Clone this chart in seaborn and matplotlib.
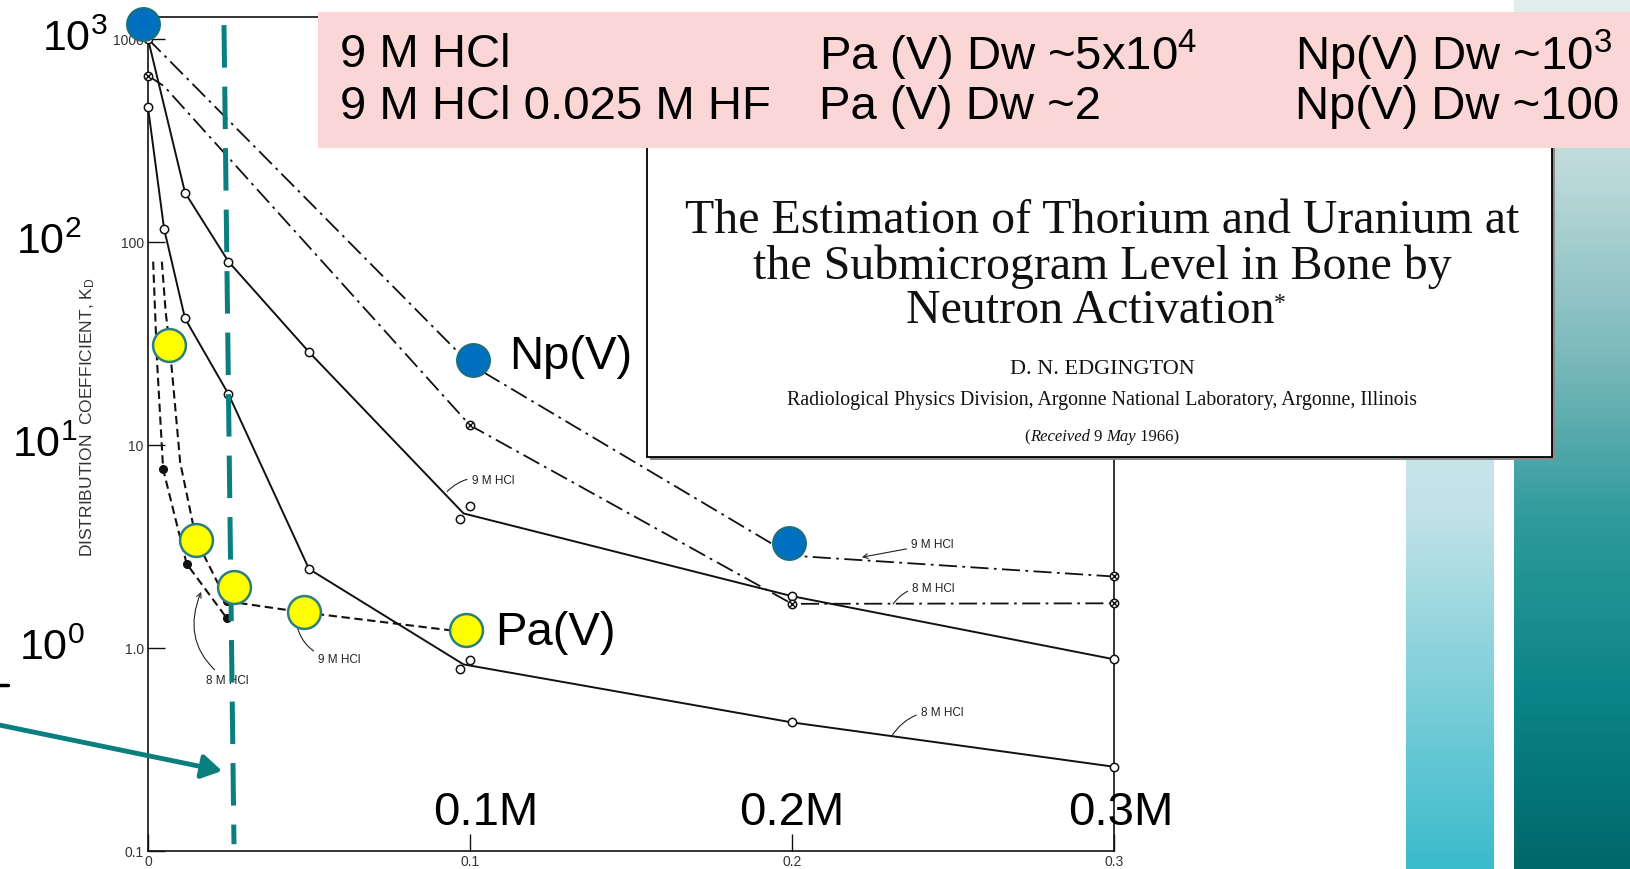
import numpy as np
import matplotlib
matplotlib.use("Agg")
import matplotlib.pyplot as plt
from matplotlib.patches import Rectangle
from matplotlib.lines import Line2D
from matplotlib.colors import LinearSegmentedColormap
from matplotlib.transforms import blended_transform_factory
import seaborn as sns

# ---------------- data ----------------
# HF concentration (M) vs distribution coefficient K_D
np9_x = [0.0, 0.1, 0.2, 0.3]
np9_kd = [1000, 25, 2.85, 2.25]
np8_x = [0.0, 0.005, 0.1, 0.2, 0.3]
np8_kd = [660, 585, 12.5, 1.65, 1.66]

solid9_x = [0.0, 0.0115, 0.025, 0.05, 0.098, 0.2, 0.3]
solid9_kd = [1000, 175, 80, 28.7, 4.6, 1.8, 0.88]
solid9_pts_x = [0.0, 0.0115, 0.025, 0.05, 0.1, 0.097, 0.2, 0.3]
solid9_pts_kd = [1000, 175, 80, 28.7, 5.0, 4.3, 1.8, 0.88]

solid8_x = [0.0, 0.005, 0.0115, 0.025, 0.05, 0.098, 0.2, 0.3]
solid8_kd = [460, 116, 42, 17.8, 2.45, 0.83, 0.43, 0.26]
solid8_pts_x = [0.0, 0.005, 0.0115, 0.025, 0.05, 0.1, 0.097, 0.2, 0.3]
solid8_pts_kd = [460, 116, 42, 17.8, 2.45, 0.87, 0.79, 0.43, 0.26]

pa9_x = [0.0043, 0.0055, 0.0068, 0.01, 0.015, 0.0245, 0.048, 0.098]
pa9_kd = [80, 45, 30, 8.2, 3.4, 1.7, 1.5, 1.2]
pa8_x = [0.0016, 0.0028, 0.0047, 0.012, 0.0245]
pa8_kd = [80, 26, 7.6, 2.6, 1.4]
pa8_pts_x = [0.0047, 0.012, 0.0245]
pa8_pts_kd = [7.6, 2.6, 1.4]
pa9_pts_x = [0.0245]
pa9_pts_kd = [1.7]

cross_x = [0.0, 0.1, 0.2, 0.3, 0.3]
cross_kd = [660, 12.5, 1.65, 1.66, 2.25]

np_hl_x = [-0.0015, 0.101, 0.199]
np_hl_kd = [1186, 26.2, 3.29]
pa_hl_x = [0.0065, 0.015, 0.0267, 0.0485, 0.0988]
pa_hl_kd = [31, 3.4, 2.0, 1.5, 1.23]

hf_line_x = [0.0236, 0.0267]
hf_line_kd = [1170, 0.108]

ytick_vals = [0.1, 1, 10, 100, 1000]
ytick_labels = ["0.1", "1.0", "10", "100", "1000"]
xtick_vals = [0, 0.1, 0.2, 0.3]
xtick_labels = ["0", "0.1", "0.2", "0.3"]
big_y_vals = [1000, 100, 10, 1]
big_y_labels = [r"$\mathregular{10^3}$", r"$\mathregular{10^2}$",
                r"$\mathregular{10^1}$", r"$\mathregular{10^0}$"]
big_x_vals = [0.105, 0.2, 0.302]
big_x_labels = ["0.1M", "0.2M", "0.3M"]

table_rows = [
    ["9 M HCl", r"Pa (V) Dw ~5x10$\mathregular{^4}$", r"Np(V) Dw ~10$\mathregular{^3}$"],
    ["9 M HCl 0.025 M HF", "Pa (V) Dw ~2", "Np(V) Dw ~100"],
]

# ---------------- style ----------------
sns.set_theme(style="white")
plt.rcParams["font.family"] = ["Liberation Sans", "DejaVu Sans"]
plt.rcParams["mathtext.fontset"] = "custom"
plt.rcParams["mathtext.rm"] = "Liberation Sans"
plt.rcParams["mathtext.it"] = "Liberation Sans:italic"

W, H = 1631, 870
fig = plt.figure(figsize=(W / 100, H / 100), dpi=100)
fig.patch.set_facecolor("white")

ax = fig.add_axes([148 / W, 1 - 852 / H, 966 / W, 834 / H])
ax.set_facecolor("white")
ax.set_yscale("log")
ax.set_xlim(0, 0.3)
ax.set_ylim(0.1, 1283)

black = "#111111"
dashdot = (0, (10, 3, 1.5, 3))
dashed = (0, (4, 2.2))

sns.lineplot(x=np9_x, y=np9_kd, ax=ax, color=black, lw=1.3, linestyle=dashdot,
             sort=False, estimator=None)
sns.lineplot(x=np8_x, y=np8_kd, ax=ax, color=black, lw=1.3, linestyle=dashdot,
             sort=False, estimator=None)
sns.lineplot(x=solid9_x, y=solid9_kd, ax=ax, color=black, lw=1.4,
             sort=False, estimator=None)
sns.lineplot(x=solid8_x, y=solid8_kd, ax=ax, color=black, lw=1.4,
             sort=False, estimator=None)
sns.lineplot(x=pa9_x, y=pa9_kd, ax=ax, color=black, lw=1.5, linestyle=dashed,
             sort=False, estimator=None)
sns.lineplot(x=pa8_x, y=pa8_kd, ax=ax, color=black, lw=1.5, linestyle=dashed,
             sort=False, estimator=None)

# measured points
ax.plot(solid9_pts_x, solid9_pts_kd, "o", ms=6, mfc="white", mec=black, mew=1.1,
        clip_on=False, zorder=3)
ax.plot(solid8_pts_x, solid8_pts_kd, "o", ms=6, mfc="white", mec=black, mew=1.1,
        clip_on=False, zorder=3)
ax.plot(cross_x, cross_kd, "o", ms=6, mfc="white", mec=black, mew=1.1,
        clip_on=False, zorder=3)
ax.plot(cross_x, cross_kd, "x", ms=4, mec=black, mew=1.0, clip_on=False, zorder=3)
ax.plot(pa8_pts_x + pa9_pts_x, pa8_pts_kd + pa9_pts_kd, "o", ms=5.5, mfc=black,
        mec=black, clip_on=False, zorder=3)

# curve labels with leaders
small = dict(fontsize=8.5, color="#222222")
def tag(text, xy, xytext, style="-", rad=0.3, ha="left"):
    ax.annotate(text, xy=xy, xytext=xytext, ha=ha, va="center", **small,
                arrowprops=dict(arrowstyle=style, lw=0.8, color="#222222",
                                connectionstyle=f"arc3,rad={rad}",
                                shrinkA=1, shrinkB=0),
                annotation_clip=False)

tag("9 M HCl", (0.0929, 5.9), (0.1005, 6.7), rad=0.3)
tag("9 M HCl", (0.2217, 2.8), (0.237, 3.25), style="->", rad=0.0)
tag("8 M HCl", (0.2314, 1.65), (0.2373, 1.98), rad=0.3)
tag("8 M HCl", (0.231, 0.369), (0.24, 0.484), rad=0.3)
tag("8 M HCl", (0.0165, 1.89), (0.0246, 0.695), style="->", rad=-0.4, ha="center")
tag("9 M HCl", (0.0457, 1.42), (0.0528, 0.88), rad=-0.4)

# axes frame
for s in ax.spines.values():
    s.set_visible(True)
    s.set_color(black)
    s.set_linewidth(1.2)
ax.set_yticks(ytick_vals)
ax.set_yticklabels(ytick_labels)
ax.set_xticks(xtick_vals)
ax.set_xticklabels(xtick_labels)
ax.minorticks_off()
ax.tick_params(axis="both", direction="in", length=12, width=1.0, color=black,
               labelsize=10, labelcolor="#333333", pad=3)
ax.tick_params(axis="x", pad=2)
ax.tick_params(axis="y", left=True)
ax.tick_params(axis="x", bottom=True)
ax.set_ylabel(r"DISTRIBUTION  COEFFICIENT, K$_\mathregular{D}$", fontsize=12.5,
              color="#333333")
ax.yaxis.set_label_coords((97 - 148) / 966, (852 - 417) / 834)

# highlight overlay
teal = "#0B7E80"
ax.plot(hf_line_x, hf_line_kd, color=teal, lw=3.6, linestyle=(0, (8.5, 3.8)),
        clip_on=False, zorder=6)
sns.scatterplot(x=np_hl_x, y=np_hl_kd, ax=ax, s=560, color="#0070C0",
                edgecolor="#1D6E7E", linewidth=1.5, clip_on=False, zorder=8)
sns.scatterplot(x=pa_hl_x, y=pa_hl_kd, ax=ax, s=560, color="#FFFF00",
                edgecolor="#2B7F7F", linewidth=1.8, clip_on=False, zorder=8)
ax.annotate("", xy=(0.023, 0.248), xytext=(-0.047, 0.42),
            arrowprops=dict(arrowstyle="-|>,head_length=1.0,head_width=0.6",
                            color=teal, lw=3.5, shrinkA=0, shrinkB=0),
            annotation_clip=False, zorder=6)

big = dict(fontsize=34, color="black")
ax.text(0.101 + 0.011, 27.5, "Np(V)", ha="left", va="center", **big, zorder=9)
ax.text(0.0988 + 0.009, 1.2, "Pa(V)", ha="left", va="center", **big, zorder=9)
for xv, lab in zip(big_x_vals, big_x_labels):
    ax.text(xv, 0.155, lab, ha="center", va="center", **big, zorder=9)

ytrans = blended_transform_factory(fig.transFigure, ax.transData)
for px, yv, lab in zip([42, 16, 12, 19], big_y_vals, big_y_labels):
    ax.text(px / W, yv, lab, transform=ytrans, ha="left", va="center",
            fontsize=31, color="black", clip_on=False)

fig.add_artist(Line2D([0, 8 / W], [1 - 686 / H, 1 - 686 / H], color="black",
                      lw=2.5, transform=fig.transFigure))

# decorative side bars
light_cmap = LinearSegmentedColormap.from_list("light", ["#D4ECEF", "#C4E3E8", "#3ABBCB"])
deep_cmap = LinearSegmentedColormap.from_list(
    "deep", ["#E2EEEE", "#BCD9DA", "#7FBBBD", "#2E9A9C", "#0A8587", "#00676C"])
grad = np.linspace(0, 1, 256).reshape(-1, 1)
bar1 = fig.add_axes([1406 / W, 0, (1494 - 1406) / W, 1 - 146 / H], zorder=1)
bar1.imshow(grad, aspect="auto", cmap=light_cmap)
bar1.set_axis_off()
bar2 = fig.add_axes([1514 / W, 0, (W - 1514) / W, 1], zorder=1)
bar2.imshow(grad, aspect="auto", cmap=deep_cmap)
bar2.set_axis_off()

# article header panel
bx0, by0, bx1, by1 = 647, 146, 1552, 458
fig.add_artist(Rectangle(((bx0 + 3) / W, 1 - (by1 + 3) / H), (bx1 - bx0) / W,
                         (by1 - by0) / H, transform=fig.transFigure,
                         facecolor="#8A8A8A", edgecolor="none", zorder=2.9))
fig.add_artist(Rectangle((bx0 / W, 1 - by1 / H), (bx1 - bx0) / W, (by1 - by0) / H,
                         transform=fig.transFigure, facecolor="white",
                         edgecolor="black", lw=1.3, zorder=3))
serif = ["Liberation Serif", "DejaVu Serif"]
cx = 1102 / W
renderer = fig.canvas.get_renderer()


def centered_line(pieces, py, fs):
    """Draw a centred line made of (text, style) pieces."""
    arts = []
    for text, st in pieces:
        arts.append(fig.text(0, 1 - py / H, text, ha="left", va="baseline",
                             fontsize=fs, family=serif, style=st,
                             color="#111111", zorder=4))
    widths = [a.get_window_extent(renderer).width for a in arts]
    x = cx * W - sum(widths) / 2
    for a, w in zip(arts, widths):
        a.set_x(x / W)
        x += w
    return arts


for text, py, fs in [
    ("The Estimation of Thorium and Uranium at", 233, 34.5),
    ("the Submicrogram Level in Bone by", 279, 34.5),
]:
    centered_line([(text, "normal")], py, fs)
act = centered_line([("Neutron Activation", "normal"), ("*", "normal")], 323, 34.5)
act[1].set_fontsize(17)
act[1].set_y(1 - 309 / H)
centered_line([("D. N. EDGINGTON", "normal")], 374, 16)
centered_line([("Radiological Physics Division, Argonne National Laboratory, "
                "Argonne, Illinois", "normal")], 405, 14.3)
centered_line([("(", "normal"), ("Received", "italic"), (" 9 ", "normal"),
               ("May", "italic"), (" 1966)", "normal")], 441, 12)

# condition summary strip
fig.add_artist(Rectangle((318 / W, 1 - 149 / H), (W - 318) / W, (149 - 12.5) / H,
                         transform=fig.transFigure, facecolor="#FAD7D6",
                         edgecolor="none", zorder=3.2))
for row, py in zip(table_rows, [55, 107]):
    for text, px in zip(row, [340, 819, 1295]):
        fig.text(px / W, 1 - py / H, text, ha="left", va="center", fontsize=34,
                 color="black", zorder=4)

fig.savefig("out.png", dpi=100)
